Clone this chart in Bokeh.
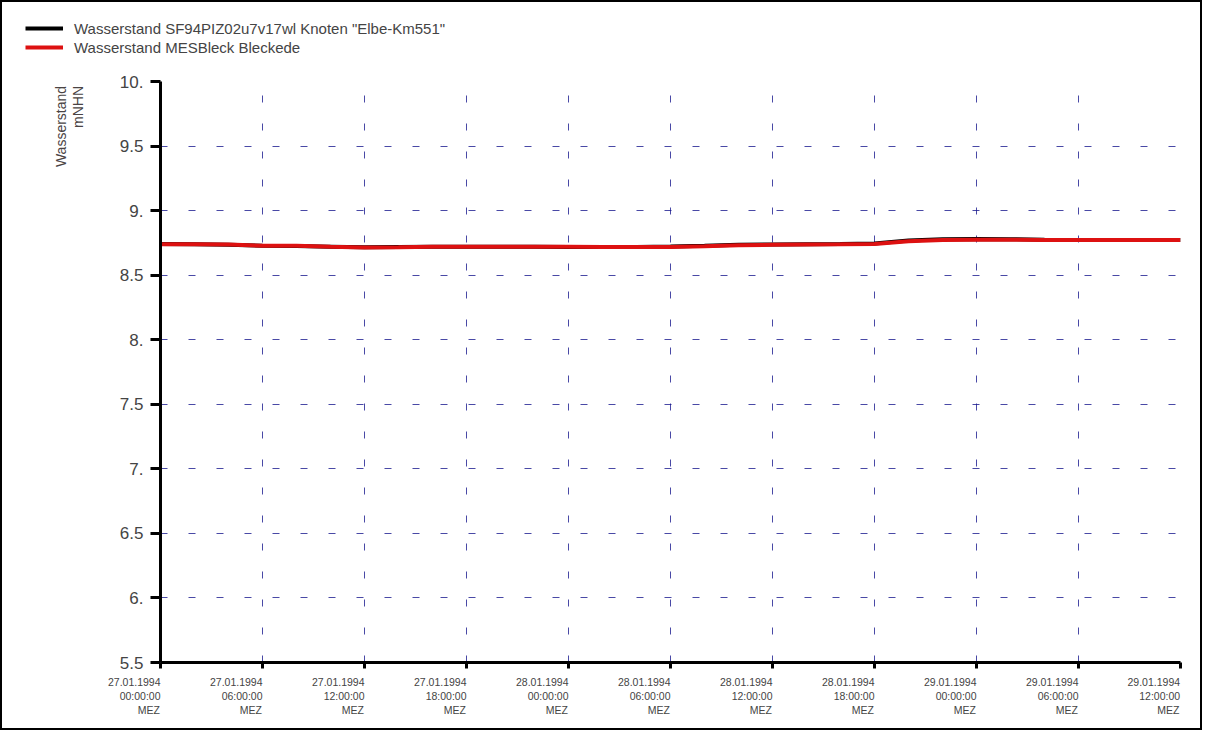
import math
from bokeh.plotting import figure
from bokeh.layouts import column, row
from bokeh.models import Range1d, FixedTicker, Legend, LegendItem
from bokeh.core.properties import value
from bokeh.embed import file_html
from bokeh.resources import INLINE

# ---- data -------------------------------------------------------------
hours = [0, 2, 4, 6, 8, 10, 12, 14, 16, 18, 20, 22, 24, 26, 28, 30,
         32, 34, 36, 38, 40, 42, 44, 46, 48, 50, 52, 54, 56, 58, 60]
wl_model = [8.741, 8.740, 8.736, 8.728, 8.726, 8.721, 8.716, 8.718, 8.720, 8.721,
            8.720, 8.720, 8.719, 8.719, 8.719, 8.722, 8.728, 8.735, 8.738, 8.740,
            8.741, 8.745, 8.768, 8.778, 8.780, 8.779, 8.775, 8.772, 8.772, 8.772, 8.772]
wl_meas = [8.740, 8.740, 8.737, 8.728, 8.727, 8.720, 8.715, 8.717, 8.720, 8.720,
           8.720, 8.720, 8.720, 8.719, 8.718, 8.719, 8.724, 8.731, 8.735, 8.738,
           8.739, 8.742, 8.762, 8.772, 8.775, 8.775, 8.773, 8.772, 8.772, 8.772, 8.772]

series_labels = ['Wasserstand SF94PIZ02u7v17wl Knoten "Elbe-Km551"',
                 'Wasserstand MESBleck Bleckede']
series_colors = ["black", "#dd1111"]
y_title = ["Wasserstand", "mNHN"]

x_ticks = [0, 6, 12, 18, 24, 30, 36, 42, 48, 54, 60]
x_tick_dates = ["27.01.1994", "27.01.1994", "27.01.1994", "27.01.1994",
                "28.01.1994", "28.01.1994", "28.01.1994", "28.01.1994",
                "29.01.1994", "29.01.1994", "29.01.1994"]
x_tick_times = ["00:00:00", "06:00:00", "12:00:00", "18:00:00",
                "00:00:00", "06:00:00", "12:00:00", "18:00:00",
                "00:00:00", "06:00:00", "12:00:00"]
x_tick_zone = "MEZ"
y_ticks = [5.5, 6, 6.5, 7, 7.5, 8, 8.5, 9, 9.5, 10]
y_tick_labels = ["5.5", "6.", "6.5", "7.", "7.5", "8.", "8.5", "9.", "9.5", "10."]

FONT = "Liberation Sans"
NB = "\u00a0"


def tick_label(d, t, tail):
    # three lines, right-aligned, padded so that the text ends at the tick mark
    return "\n".join([d + NB * tail,
                      NB * 4 + t + NB * tail,
                      NB * 10 + x_tick_zone + NB * tail])


x_tick_labels = [tick_label(d, t, 18 if i < len(x_ticks) - 1 else 7)
                 for i, (d, t) in enumerate(zip(x_tick_dates, x_tick_times))]

# ---- legend strip (top) ----------------------------------------------
leg_fig = figure(width=1198, height=70, output_backend="svg", toolbar_location=None,
                 x_range=Range1d(0, 1), y_range=Range1d(0, 1),
                 x_axis_location=None, y_axis_location=None, min_border=0)
leg_fig.outline_line_color = None
leg_fig.xgrid.visible = False
leg_fig.ygrid.visible = False
# legend keys (the series lie outside this strip's range, only the keys show)
proxies = [leg_fig.line(hours, ys, line_color=c, line_width=4)
           for ys, c in zip((wl_model, wl_meas), series_colors)]
legend = Legend(items=[LegendItem(label=l, renderers=[r])
                       for l, r in zip(series_labels, proxies)],
                location=(23, 16), padding=0, margin=0, spacing=1,
                label_standoff=11, glyph_width=38, glyph_height=18,
                label_height=18, border_line_color=None,
                background_fill_alpha=0,
                label_text_font=FONT, label_text_font_size="15px")
leg_fig.add_layout(legend)

# ---- y axis title strip (left) --------------------------------------
tit_fig = figure(width=100, height=656, output_backend="svg", toolbar_location=None,
                 x_range=Range1d(0, 100), y_range=Range1d(0, 656),
                 x_axis_location=None, y_axis_location=None, min_border=0)
tit_fig.outline_line_color = None
tit_fig.xgrid.visible = False
tit_fig.ygrid.visible = False
tit_fig.text(x=[50, 67], y=[651, 651], text=y_title, angle=math.pi / 2,
             text_align="right", text_baseline="top",
             text_font=value(FONT), text_font_size="14px", text_color="#4a4444")

# ---- main plot ------------------------------------------------------
p = figure(width=1098, height=656, output_backend="svg", toolbar_location=None,
           x_range=Range1d(0, 60), y_range=Range1d(5.5, 10),
           min_border_left=58, min_border_right=20, min_border_top=9,
           min_border_bottom=66)
p.outline_line_color = None

for g in (p.xgrid, p.ygrid):
    g.grid_line_color = "#1c1c90"
    g.grid_line_width = 1
    g.grid_line_dash = "7 21"
    g.grid_line_alpha = 0.8
p.xgrid.ticker = FixedTicker(ticks=x_ticks)
p.ygrid.ticker = FixedTicker(ticks=y_ticks)

xa = p.xaxis[0]
xa.ticker = FixedTicker(ticks=x_ticks)
xa.major_label_overrides = dict(zip(x_ticks, x_tick_labels))
xa.axis_line_width = 3
xa.major_tick_line_width = 3
xa.major_tick_out = 6
xa.major_tick_in = 0
xa.minor_tick_line_color = None
xa.major_label_text_font = FONT
xa.major_label_text_font_size = "10.5px"
xa.major_label_standoff = 7

ya = p.yaxis[0]
ya.ticker = FixedTicker(ticks=y_ticks)
ya.major_label_overrides = {(int(v) if float(v).is_integer() else v): s
                            for v, s in zip(y_ticks, y_tick_labels)}
ya.axis_line_width = 3
ya.major_tick_line_width = 3
ya.major_tick_out = 10
ya.major_tick_in = 0
ya.minor_tick_line_color = None
ya.major_label_text_font = FONT
ya.major_label_text_font_size = "17px"
ya.major_label_standoff = 7

p.line(hours, wl_model, line_color=series_colors[0], line_width=4)
p.line(hours, wl_meas, line_color=series_colors[1], line_width=4)

layout = column(leg_fig, row(tit_fig, p, spacing=0), spacing=0)
layout.styles = {"border": "2px solid black", "background-color": "white"}

open("out.html", "w").write(file_html(layout, INLINE))
